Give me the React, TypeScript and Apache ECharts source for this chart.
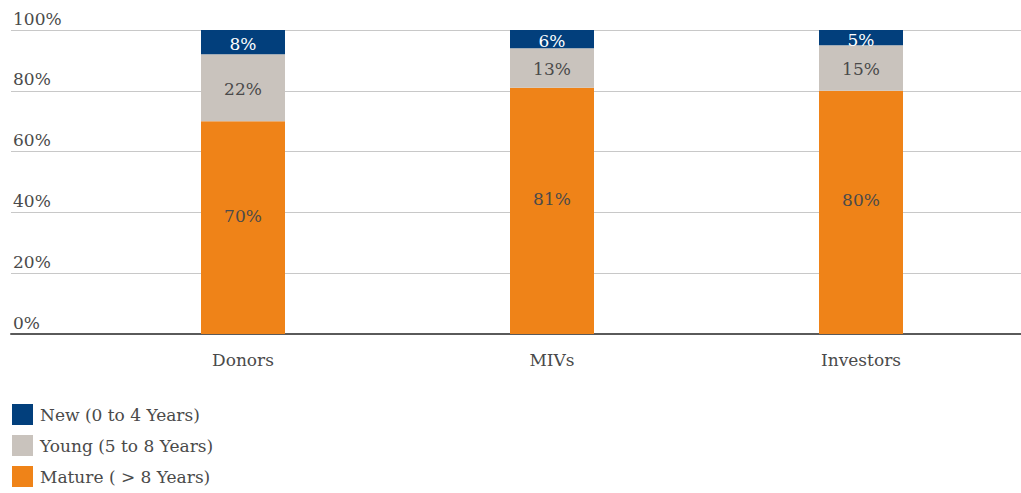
import React, { useEffect, useRef } from "react";
import * as echarts from "echarts";

const categories = ["Donors", "MIVs", "Investors"];
const matureValues = [70, 81, 80];
const youngValues = [22, 13, 15];
const newValues = [8, 6, 5];
const yTicks = [0, 20, 40, 60, 80, 100];
const legendNames = ["New (0 to 4 Years)", "Young (5 to 8 Years)", "Mature ( > 8 Years)"];

const FONT = "DejaVu Serif";
const TEXT = "#4a4a4a";

export default function App() {
  const ref = useRef<HTMLDivElement>(null);

  useEffect(() => {
    if (!ref.current) return;
    const chart = echarts.init(ref.current, null, { renderer: "svg" });

    const barLabel = (color: string, extra: any = {}) => ({
      show: true,
      position: "inside",
      formatter: "{c}%",
      color,
      fontFamily: FONT,
      fontSize: 17,
      ...extra,
    });

    chart.setOption({
      animation: false,
      backgroundColor: "#ffffff",
      textStyle: { fontFamily: FONT },
      grid: [
        { left: 11, right: 0, top: 30, height: 304 },
        { left: 88.5, right: 5.5, top: 30, height: 304 },
      ],
      xAxis: [
        {
          type: "category",
          gridIndex: 0,
          data: [""],
          axisLine: { show: true, lineStyle: { color: "#5a5a5a", width: 2 } },
          axisTick: { show: false },
          axisLabel: { show: false },
        },
        {
          type: "category",
          gridIndex: 1,
          data: categories,
          axisLine: { show: false },
          axisTick: { show: false },
          axisLabel: {
            margin: 17,
            color: TEXT,
            fontFamily: FONT,
            fontSize: 17,
          },
        },
      ],
      yAxis: [
        {
          type: "value",
          gridIndex: 0,
          min: yTicks[0],
          max: yTicks[yTicks.length - 1],
          interval: 20,
          axisLine: { show: false },
          axisTick: { show: false },
          splitLine: { show: true, lineStyle: { color: "#c8c8c8", width: 1 } },
          axisLabel: {
            inside: true,
            margin: 2,
            align: "left",
            verticalAlign: "bottom",
            padding: [0, 0, 3, 0],
            formatter: "{value}%",
            color: TEXT,
            fontFamily: FONT,
            fontSize: 17,
          },
        },
        {
          type: "value",
          gridIndex: 1,
          min: 0,
          max: 100,
          show: false,
          splitLine: { show: false },
        },
      ],
      legend: {
        orient: "vertical",
        left: 12,
        top: 404,
        height: 120,
        padding: 0,
        itemWidth: 21,
        itemHeight: 21,
        itemGap: 10,
        icon: "rect",
        data: legendNames,
        textStyle: { color: TEXT, fontFamily: FONT, fontSize: 17, padding: [0, 0, 0, 2] },
      },
      series: [
        {
          name: legendNames[2],
          type: "bar",
          stack: "total",
          xAxisIndex: 1,
          yAxisIndex: 1,
          barWidth: 84,
          itemStyle: { color: "#ef8318" },
          label: barLabel(TEXT, { offset: [0, -12] }),
          data: matureValues,
        },
        {
          name: legendNames[1],
          type: "bar",
          stack: "total",
          xAxisIndex: 1,
          yAxisIndex: 1,
          barWidth: 84,
          itemStyle: { color: "#c9c3bd" },
          label: barLabel(TEXT, { offset: [0, 1] }),
          data: youngValues,
        },
        {
          name: legendNames[0],
          type: "bar",
          stack: "total",
          xAxisIndex: 1,
          yAxisIndex: 1,
          barWidth: 84,
          itemStyle: { color: "#023f7c" },
          label: barLabel("#ffffff", { offset: [0, 2] }),
          data: newValues,
        },
      ],
    });

    return () => chart.dispose();
  }, []);

  return (
    <div
      ref={ref}
      style={{ position: "fixed", left: 0, top: 0, width: 1021, height: 493 }}
    />
  );
}
